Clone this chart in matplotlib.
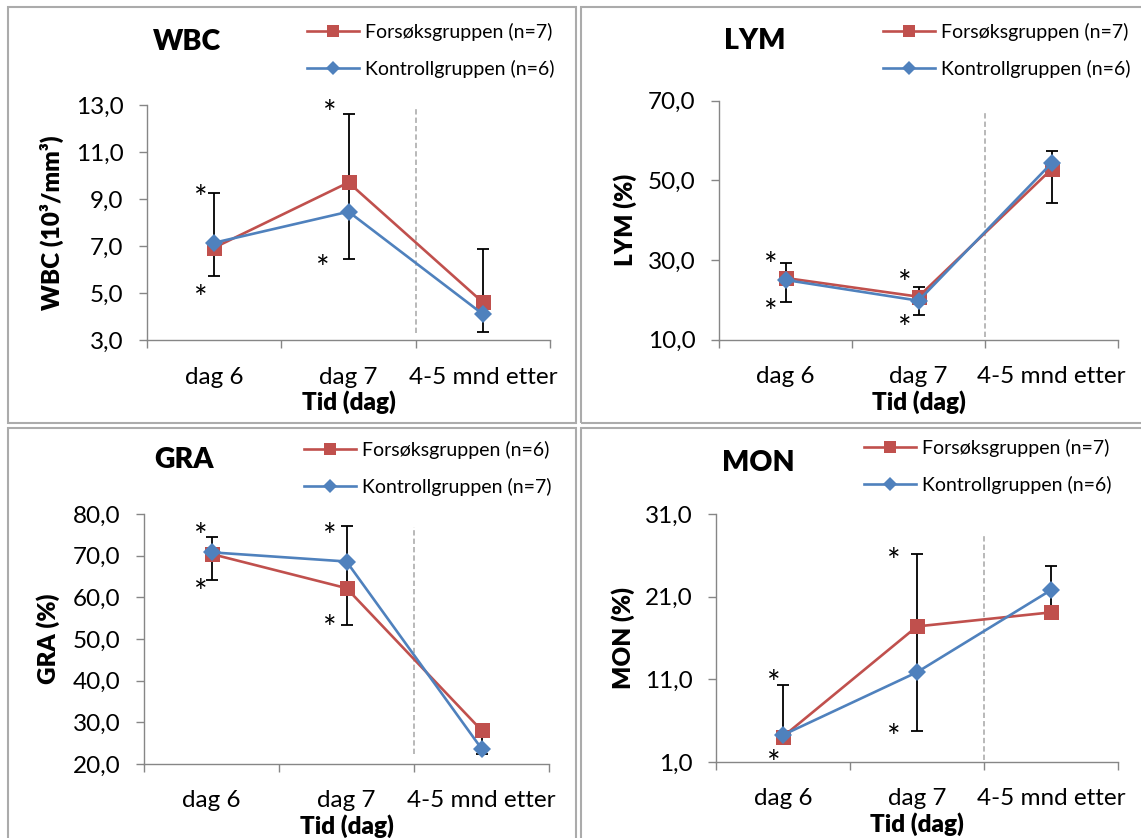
import matplotlib
matplotlib.use('Agg')
import matplotlib.pyplot as plt
from matplotlib.patches import Rectangle
from matplotlib.ticker import FuncFormatter, FixedLocator
import numpy as np

W, H = 1141, 838
RED = '#C0504D'
BLUE = '#4F81BD'
AXIS_GRAY = '#868686'

categories = ['dag 6', 'dag 7', '4-5 mnd etter']

# WBC (10^3/mm^3)
wbc_forsok = [6.94, 9.71, 4.62]
wbc_kontroll = [7.15, 8.47, 4.12]
wbc_err_hi = [9.27, 12.63, 6.88]
wbc_err_lo = [5.74, 6.47, 3.38]
wbc_star_x = [-0.10, -0.10, 0.86, 0.81]
wbc_star_y = [9.32, 5.1, 12.94, 6.34]
wbc_n = (7, 6)

# LYM (%)
lym_forsok = [25.5, 20.8, 52.8]
lym_kontroll = [25.0, 19.8, 54.3]
lym_err_hi = [29.2, 23.3, 57.4]
lym_err_lo = [19.5, 16.2, 44.2]
lym_star_x = [-0.11, -0.11, 0.90, 0.90]
lym_star_y = [30.4, 18.7, 25.8, 14.5]
lym_n = (7, 6)

# GRA (%)
gra_forsok = [70.4, 62.2, 28.1]
gra_kontroll = [70.8, 68.6, 23.7]
gra_err_hi = [74.5, 77.2, 28.1]
gra_err_lo = [64.1, 53.4, 22.5]
gra_star_x = [-0.08, -0.08, 0.88, 0.88]
gra_star_y = [76.2, 62.8, 76.2, 54.3]
gra_n = (6, 7)

# MON (%)
mon_forsok = [4.07, 17.4, 19.1]
mon_kontroll = [4.27, 11.86, 21.8]
mon_err_hi = [10.33, 26.15, 24.66]
mon_err_lo = [4.0, 4.75, 19.5]
mon_star_x = [-0.07, -0.07, 0.83, 0.83]
mon_star_y = [11.3, 1.65, 26.07, 4.8]
mon_n = (7, 6)

plt.rcParams['font.family'] = ['Lato', 'DejaVu Sans']

fig = plt.figure(figsize=(W / 100, H / 100), dpi=100)


def fig_xy(x, y):
    return x / W, 1 - y / H


def comma(v, pos):
    return f'{v:.1f}'.replace('.', ',')


def panel(frame, box, title, title_xy, legend_xy, ylabel, ylabel_x,
          forsok, kontroll, err_hi, err_lo, star_x, star_y, n,
          yticks, divider):
    # grey frame round each chart
    fl, ft, fr, fb = frame
    fig.add_artist(Rectangle(fig_xy(fl, fb), (fr - fl) / W, (fb - ft) / H,
                             transform=fig.transFigure, fill=False,
                             edgecolor='#ABABAB', linewidth=1.5))

    left, top, right, bottom = box
    ax = fig.add_axes([left / W, 1 - bottom / H, (right - left) / W, (bottom - top) / H])
    x = np.arange(len(categories))

    ax.axvline(1.5, ymin=divider[0], ymax=divider[1], color='#A6A6A6',
               linewidth=1.1, dashes=(3.5, 2), zorder=1)

    hi = np.array(err_hi)
    lo = np.array(err_lo)
    ax.errorbar(x, (hi + lo) / 2, yerr=(hi - lo) / 2, fmt='none', ecolor='black',
                elinewidth=1.3, capsize=4.6, capthick=1.3, zorder=2)

    l1, = ax.plot(x, forsok, color=RED, linewidth=1.9, marker='s', markersize=10.8,
                  markeredgewidth=0, zorder=3)
    l2, = ax.plot(x, kontroll, color=BLUE, linewidth=1.9, marker='D', markersize=8.8,
                  markeredgewidth=0, zorder=4)

    for sx, sy in zip(star_x, star_y):
        ax.annotate('*', (sx, sy), xytext=(0, -6.2), textcoords='offset points',
                    ha='center', va='center', fontsize=23)

    ax.set_xlim(-0.5, 2.5)
    ax.set_ylim(yticks[0], yticks[-1])
    ax.yaxis.set_major_locator(FixedLocator(yticks))
    ax.yaxis.set_major_formatter(FuncFormatter(comma))
    ax.xaxis.set_major_locator(FixedLocator([-0.5, 0.5, 1.5, 2.5]))
    ax.xaxis.set_major_formatter(FuncFormatter(lambda v, p: ''))
    ax.xaxis.set_minor_locator(FixedLocator(x))
    ax.set_xticklabels(categories, minor=True)

    for side in ['top', 'right']:
        ax.spines[side].set_visible(False)
    for side in ['left', 'bottom']:
        ax.spines[side].set_color(AXIS_GRAY)
        ax.spines[side].set_linewidth(1.0)
    ax.tick_params(axis='y', direction='out', length=5.8, width=1.0, color=AXIS_GRAY,
                   labelsize=17.5, pad=11)
    ax.tick_params(axis='x', which='major', direction='out', length=5.8, width=1.0,
                   color=AXIS_GRAY)
    ax.tick_params(axis='x', which='minor', length=0, labelsize=17.5, pad=19)

    ax.set_xlabel('Tid (dag)', fontsize=17.5, fontweight='heavy', va='center')
    ax.xaxis.set_label_coords(0.5, -62 / (bottom - top))
    ax.set_ylabel(ylabel, fontsize=17.5, fontweight='heavy', va='center')
    ax.yaxis.set_label_coords(-(left - ylabel_x) / (right - left), 0.5)

    tx, ty = fig_xy(*title_xy)
    fig.text(tx, ty, title, ha='center', va='center', fontsize=20.5, fontweight='heavy')

    lx, ly = fig_xy(*legend_xy)
    ax.legend([l1, l2], [f'Forsøksgruppen (n={n[0]})', f'Kontrollgruppen (n={n[1]})'],
              loc='upper left', bbox_to_anchor=(lx, ly), bbox_transform=fig.transFigure,
              frameon=False, borderpad=0, borderaxespad=0, fontsize=14,
              handlelength=2.68, handletextpad=0.28, labelspacing=0.98, markerscale=0.82)
    return ax


panel((8, 7, 576, 423), (147, 105, 550, 340.5), 'WBC', (187, 42), (307, 22.5),
      'WBC (10³/mm³)', 52, wbc_forsok, wbc_kontroll, wbc_err_hi, wbc_err_lo,
      wbc_star_x, wbc_star_y, wbc_n, [3, 5, 7, 9, 11, 13], (0.03, 0.985))

panel((581, 7, 1150, 423), (719, 100.7, 1118, 339.7), 'LYM', (755, 41), (883, 22.5),
      'LYM (%)', 625, lym_forsok, lym_kontroll, lym_err_hi, lym_err_lo,
      lym_star_x, lym_star_y, lym_n, [10, 30, 50, 70], (0.01, 0.95))

panel((8, 428, 576, 850), (144, 514, 549, 764), 'GRA', (184, 460), (304, 440.5),
      'GRA (%)', 48, gra_forsok, gra_kontroll, gra_err_hi, gra_err_lo,
      gra_star_x, gra_star_y, gra_n, [20, 30, 40, 50, 60, 70, 80], (0.04, 0.95))

panel((581, 428, 1150, 850), (716, 514, 1118, 762), 'MON', (758, 463), (864, 438.5),
      'MON (%)', 623, mon_forsok, mon_kontroll, mon_err_hi, mon_err_lo,
      mon_star_x, mon_star_y, mon_n, [1, 11, 21, 31], (0.01, 0.92))

fig.savefig('out.png', dpi=100, facecolor='white')
